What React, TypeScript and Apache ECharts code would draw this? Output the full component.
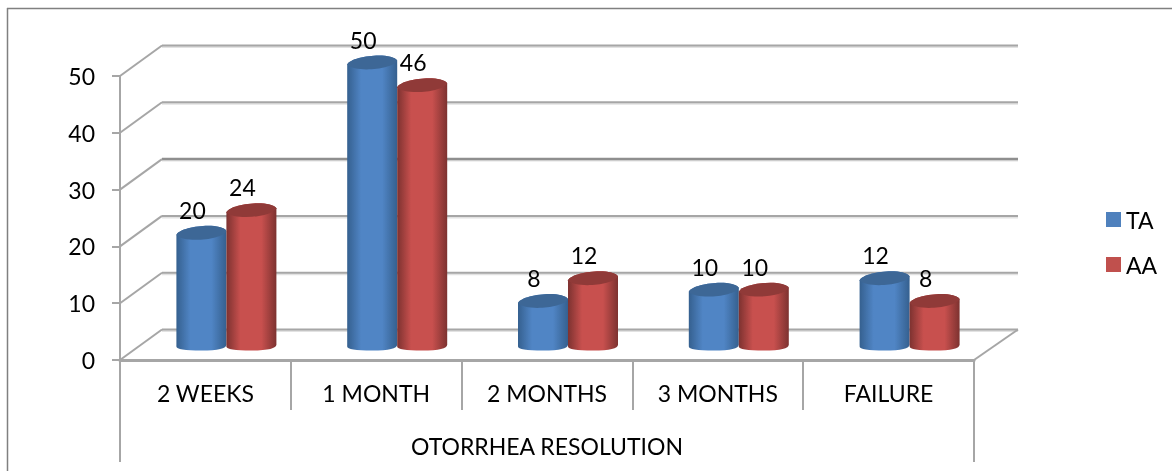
import React, { useEffect, useRef } from "react";
import * as echarts from "echarts";

const categories = ["2 WEEKS", "1 MONTH", "2 MONTHS", "3 MONTHS", "FAILURE"];
const valuesTA = [20, 50, 8, 10, 12];
const valuesAA = [24, 46, 12, 10, 8];
const wallTicks = [0, 10, 20, 30, 40, 50];
const axisTitle = "OTORRHEA RESOLUTION";
const FONT = "Lato, 'Noto Sans', sans-serif";
const FONT_SIZE = 23;

const DEPTH_X = 42;
const DEPTH_Y = 30.5;

function cylinder(
  top: number, base: number, cx: number, fill: any, cap: string, text: string,
  labelDx: number, labelY: number
) {
  const rx = 25, ry = 7, tilt = 2;
  const l = cx - rx, r = cx + rx;
  const yL = top + tilt, yR = top - tilt;
  const upper = `C ${l + 4} ${yL - ry * 1.25} ${r - 6} ${yR - ry * 1.3} ${r} ${yR}`;
  const lower = `C ${r - 4} ${yR + ry * 1.25} ${l + 8} ${yL + ry * 1.25} ${l} ${yL}`;
  const body =
    `M ${l} ${yL} L ${l} ${base} ` +
    `Q ${l} ${base + 4} ${cx} ${base + 4} Q ${r} ${base + 4} ${r} ${base - 2} ` +
    `L ${r} ${yR} C ${r - 6} ${yR - ry * 1.3} ${l + 4} ${yL - ry * 1.25} ${l} ${yL} Z`;
  const capPath = `M ${l} ${yL} ${upper} ${lower} Z`;
  return {
    type: "group",
    children: [
      { type: "path", shape: { pathData: body }, style: { fill } },
      { type: "path", shape: { pathData: capPath }, style: { fill: cap } },
      {
        type: "text",
        z2: 10,
        style: {
          text, x: cx + labelDx, y: labelY, fill: "#000",
          font: `${FONT_SIZE}px ${FONT}`, align: "center", verticalAlign: "middle",
        },
      },
    ],
  };
}

const bodyFill = (edge: string, mid: string, edge2: string) =>
  new echarts.graphic.LinearGradient(0, 0, 1, 0, [
    { offset: 0, color: edge },
    { offset: 0.28, color: mid },
    { offset: 0.7, color: mid },
    { offset: 1, color: edge2 },
  ]);

function cylinderSeries(
  name: string, values: number[], color: string, side: number, edge: string, center: string, cap: string
) {
  return {
    name,
    type: "custom",
    itemStyle: { color },
    encode: { x: 0, y: 1 },
    data: values.map((v, i) => [i, v]),
    z: 5,
    renderItem: (_p: any, api: any) => {
      const c = api.value(0), v = api.value(1);
      const [cx0, y0] = api.coord([c, 0]);
      const [, yv] = api.coord([c, v]);
      const cx = cx0 + 21 + side * 25;
      return cylinder(
        yv - 13.5, y0 - 13.5, cx,
        bodyFill(edge, center, edge), cap, String(v),
        -9, yv - DEPTH_Y - 6
      );
    },
  };
}

const App = () => {
  const ref = useRef<HTMLDivElement>(null);
  useEffect(() => {
    document.body.style.margin = "0";
    const chart = echarts.init(ref.current!, undefined, { renderer: "svg" });
    const grey = "#a6a6a6";
    chart.setOption({
      animation: false,
      backgroundColor: "#fff",
      textStyle: { fontFamily: FONT },
      grid: { left: 120, right: 198, top: 76, bottom: 111 },
      legend: {
        data: ["TA", "AA"],
        orient: "vertical",
        left: 1106,
        top: 208,
        padding: 0,
        itemWidth: 15,
        itemHeight: 15,
        itemGap: 22,
        icon: "rect",
        textStyle: { fontSize: FONT_SIZE, fontFamily: FONT, color: "#000" },
      },
      xAxis: {
        type: "category",
        data: categories,
        boundaryGap: true,
        axisLine: { lineStyle: { color: grey, width: 3 } },
        axisTick: { show: true, length: 50, lineStyle: { color: grey, width: 2 } },
        axisLabel: { color: "#000", fontSize: FONT_SIZE, margin: 21, fontFamily: FONT, interval: 0 },
        name: axisTitle,
        nameLocation: "middle",
        nameGap: 86,
        nameTextStyle: { color: "#000", fontSize: FONT_SIZE, fontFamily: FONT, verticalAlign: "middle" },
      },
      yAxis: {
        type: "value",
        min: 0,
        max: 50,
        interval: 10,
        splitLine: { show: false },
        axisLine: { show: true, lineStyle: { color: grey, width: 2 } },
        axisTick: { show: true, length: 8, lineStyle: { color: grey, width: 2 } },
        axisLabel: { color: "#000", fontSize: FONT_SIZE, margin: 25, fontFamily: FONT },
      },
      series: [
        {
          type: "custom",
          silent: true,
          z: 1,
          encode: { y: 0 },
          data: wallTicks.map((t) => [t]),
          renderItem: (p: any, api: any) => {
            const v = api.value(0);
            const [, y] = api.coord([0, v]);
            const x0 = p.coordSys.x, x1 = p.coordSys.x + p.coordSys.width;
            const yb = y - DEPTH_Y;
            const strong = v === 30;
            const stroke = strong ? "#8f8f8f" : grey;
            const children: any[] = [
              {
                type: "line",
                shape: { x1: x0 + DEPTH_X, y1: yb + 1.5, x2: x1 + 44, y2: yb + 1.5 },
                style: { stroke: "#e2e2e2", lineWidth: 2 },
              },
              {
                type: "line",
                shape: { x1: x0 + DEPTH_X, y1: yb, x2: x1 + 44, y2: yb },
                style: { stroke, lineWidth: strong ? 2.5 : 2 },
              },
              {
                type: "line",
                shape: { x1: x0, y1: y, x2: x0 + DEPTH_X, y2: yb },
                style: { stroke: grey, lineWidth: 2 },
              },
            ];
            if (v === 0) {
              children.push({
                type: "line",
                shape: { x1, y1: y, x2: x1 + 44, y2: yb },
                style: { stroke: grey, lineWidth: 2 },
              });
              [x0, x1].forEach((x) =>
                children.push({
                  type: "line",
                  shape: { x1: x, y1: y, x2: x, y2: y + 102 },
                  style: { stroke: grey, lineWidth: 2 },
                })
              );
            }
            return { type: "group", children };
          },
        },
        cylinderSeries("TA", valuesTA, "#4f81bd", -1, "#35608f", "#5085c5", "#3d6796"),
        cylinderSeries("AA", valuesAA, "#c0504d", 1, "#7d3230", "#c8504e", "#903a38"),
      ],
      graphic: [
        { type: "line", shape: { x1: 7, y1: 8.5, x2: 1172, y2: 8.5 }, style: { stroke: "#808080", lineWidth: 1.5 } },
        { type: "line", shape: { x1: 7.5, y1: 8, x2: 7.5, y2: 471 }, style: { stroke: "#808080", lineWidth: 1.5 } },
      ],
    });
    return () => chart.dispose();
  }, []);
  return <div ref={ref} style={{ width: 1172, height: 471, filter: "blur(0.5px)" }} />;
};

export default App;
